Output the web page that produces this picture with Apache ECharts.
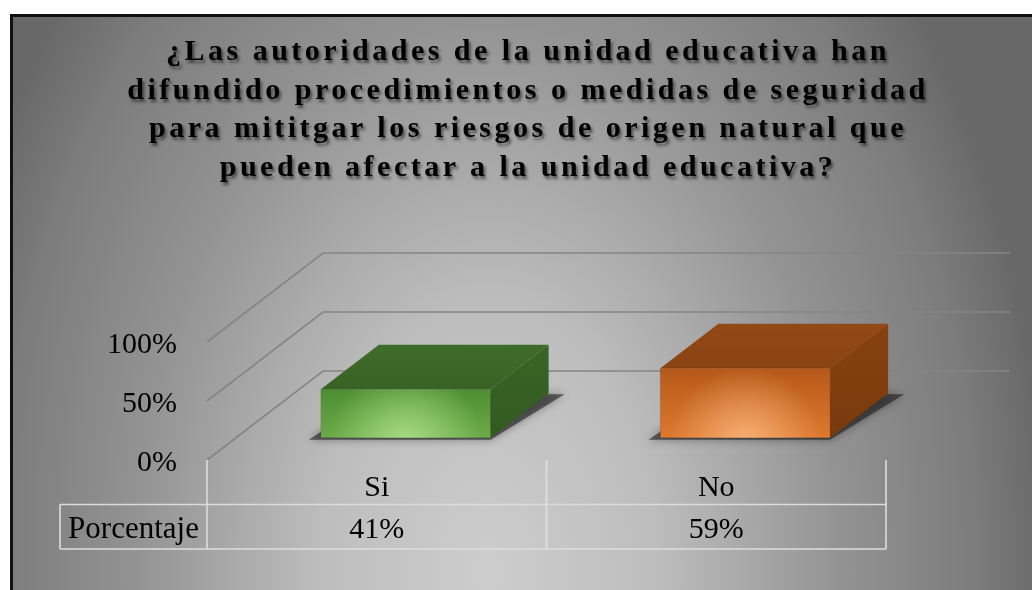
<!DOCTYPE html>
<html>
<head>
<meta charset="utf-8">
<script src="https://cdn.jsdelivr.net/npm/echarts@6/dist/echarts.min.js"></script>
<style>
html, body { margin: 0; padding: 0; background: #fff; }
#wrap { position: relative; width: 1032px; height: 590px; overflow: hidden; }
#frame {
  position: absolute; left: 10px; top: 14px; width: 1040px; height: 600px;
  box-sizing: border-box;
  border-top: 3px solid #111; border-left: 3px solid #111;
  background: radial-gradient(ellipse 560px 880px at 475px 555px,
    #cdcdcd 0%, #bdbdbd 30%, #939393 63%, #7c7c7c 87%, #686868 100%);
}
#chart { position: absolute; left: 0; top: 0; width: 1032px; height: 590px; }
#title {
  position: absolute; left: 0; top: 31px; width: 1056px;
  text-align: center; color: #000;
  font: bold 30px/38.5px "Liberation Serif", serif;
  letter-spacing: 3.5px;
  text-shadow: 2px 3px 3px rgba(0, 0, 0, .5);
  pointer-events: none;
}
</style>
</head>
<body>
<div id="wrap">
  <div id="frame"></div>
  <div id="chart"></div>
  <div id="title">¿Las autoridades de la unidad educativa han<br>difundido procedimientos o medidas de seguridad<br>para mititgar los riesgos de origen natural que<br>pueden afectar a la unidad educativa?</div>
</div>
<script>
const categories = ["Si", "No"];
const porcentaje = [41, 59];
const yTicks = [0, 50, 100];
const rowLabel = "Porcentaje";

// vector from front to back of the floor (3d look)
const DEPTH = [116, -89];
const SERIF = '"Liberation Serif", "Times New Roman", serif';

const barColors = [
  { front: ["#4f8d34", "#6cab48"], glow: "rgba(185,235,150,", top: ["#3f6c2a", "#396226"], side: ["#3a6426", "#335a21"] },
  { front: ["#b55818", "#de792f"], glow: "rgba(255,190,135,", top: ["#944916", "#8a4313"], side: ["#86420f", "#7a3a0e"] }
];

const chart = echarts.init(document.getElementById("chart"));

chart.setOption({
  animation: false,
  grid: { left: 207, right: 146, top: 342, bottom: 130 },
  xAxis: {
    type: "category",
    data: categories,
    axisLine: { show: false },
    axisTick: { show: false },
    axisLabel: { margin: 13, color: "#000", fontFamily: SERIF, fontSize: 30 }
  },
  yAxis: {
    type: "value",
    min: 0,
    max: 100,
    interval: 50,
    axisLine: { show: false },
    axisTick: { show: false },
    splitLine: { show: false },
    axisLabel: {
      formatter: "{a|{value}%}", margin: 30,
      rich: { a: { padding: [7, 0, 0, 0], color: "#000", fontFamily: SERIF, fontSize: 30 } }
    }
  },
  series: [
    {
      // perspective grid lines
      type: "custom",
      silent: true,
      z: 1,
      data: yTicks.map(v => [0, v]),
      encode: { x: 0, y: 1 },
      renderItem(params, api) {
        const cs = params.coordSys;
        const y = api.coord([0, api.value(1)])[1];
        const x0 = cs.x, x1 = cs.x + cs.width;
        return {
          type: "polyline",
          shape: { points: [[x0, y], [x0 + DEPTH[0], y + DEPTH[1]], [x1 + DEPTH[0] + 8, y + DEPTH[1]]] },
          style: { stroke: "#858585", lineWidth: 1.6, fill: null }
        };
      }
    },
    {
      // data table under the plot
      type: "custom",
      silent: true,
      z: 2,
      data: porcentaje.map((v, i) => [i, v]),
      encode: { x: 0, y: 1 },
      renderItem(params, api) {
        const cs = params.coordSys;
        const i = api.value(0);
        const c = api.coord([i, 0])[0];
        const half = api.size([1, 0])[0] / 2;
        const yTop = cs.y + cs.height, rh = 44.5;
        const l = c - half, r = c + half;
        const line = (x1, y1, x2, y2) => ({
          type: "line", shape: { x1, y1, x2, y2 },
          style: { stroke: "#dcdcdc", lineWidth: 1.6 }
        });
        const children = [
          line(l, yTop, l, yTop + 2 * rh),
          line(r, yTop, r, yTop + 2 * rh),
          line(l, yTop + rh, r, yTop + rh),
          line(l, yTop + 2 * rh, r, yTop + 2 * rh),
          {
            type: "text",
            style: {
              text: api.value(1) + "%", x: c, y: yTop + rh * 1.5 + 3,
              align: "center", verticalAlign: "middle",
              fontFamily: SERIF, fontSize: 30, fill: "#000"
            }
          }
        ];
        if (i === 0) {
          const hw = 147;
          children.push(
            line(l - hw, yTop + rh, l, yTop + rh),
            line(l - hw, yTop + 2 * rh, l, yTop + 2 * rh),
            line(l - hw, yTop + rh, l - hw, yTop + 2 * rh),
            {
              type: "text",
              style: {
                text: rowLabel, x: l - hw / 2, y: yTop + rh * 1.5 + 3,
                align: "center", verticalAlign: "middle",
                fontFamily: SERIF, fontSize: 31, fill: "#000"
              }
            }
          );
        }
        return { type: "group", children };
      }
    },
    {
      // 3d boxes
      type: "custom",
      z: 3,
      data: porcentaje.map((v, i) => [i, v]),
      encode: { x: 0, y: 1 },
      renderItem(params, api) {
        const i = api.value(0), v = api.value(1);
        const base = api.coord([i, 0]), top = api.coord([i, v]);
        const w = api.size([1, 0])[0] * 0.5;
        const ox = DEPTH[0] * 0.25, oy = DEPTH[1] * 0.25;
        const dx = DEPTH[0] * 0.5, dy = DEPTH[1] * 0.5;
        const x = base[0] - w / 2 + ox, yb = base[1] + oy, yt = top[1] + oy;
        const col = barColors[i];
        const lin = (a, b, x2, y2) => new echarts.graphic.LinearGradient(0, 0, x2, y2, [
          { offset: 0, color: a }, { offset: 1, color: b }
        ]);
        return {
          type: "group",
          children: [
            {
              type: "polygon",
              shape: { points: [[x - 12, yb + 2], [x + w, yb + 2], [x + w + dx + 16, yb + dy + 1], [x + dx, yb + dy]] },
              style: { fill: "rgba(30,30,30,0.6)", shadowBlur: 9, shadowColor: "rgba(0,0,0,0.6)" }
            },
            {
              type: "polygon",
              shape: { points: [[x, yt], [x + w, yt], [x + w + dx, yt + dy], [x + dx, yt + dy]] },
              style: { fill: lin(col.top[0], col.top[1], 0, 1) }
            },
            {
              type: "polygon",
              shape: { points: [[x + w, yt], [x + w, yb], [x + w + dx, yb + dy], [x + w + dx, yt + dy]] },
              style: { fill: lin(col.side[0], col.side[1], 0, 1) }
            },
            {
              type: "rect",
              shape: { x: x, y: yt, width: w, height: yb - yt },
              style: { fill: lin(col.front[0], col.front[1], 0, 1), stroke: "rgba(0,0,0,0.12)", lineWidth: 1 }
            },
            {
              type: "rect",
              shape: { x: x, y: yt, width: w, height: yb - yt },
              style: {
                fill: new echarts.graphic.RadialGradient(x + w / 2, yb + 6, w * 0.45, [
                  { offset: 0, color: col.glow + "0.8)" },
                  { offset: 1, color: col.glow + "0)" }
                ], true)
              }
            }
          ]
        };
      }
    }
  ]
});
</script>
</body>
</html>
